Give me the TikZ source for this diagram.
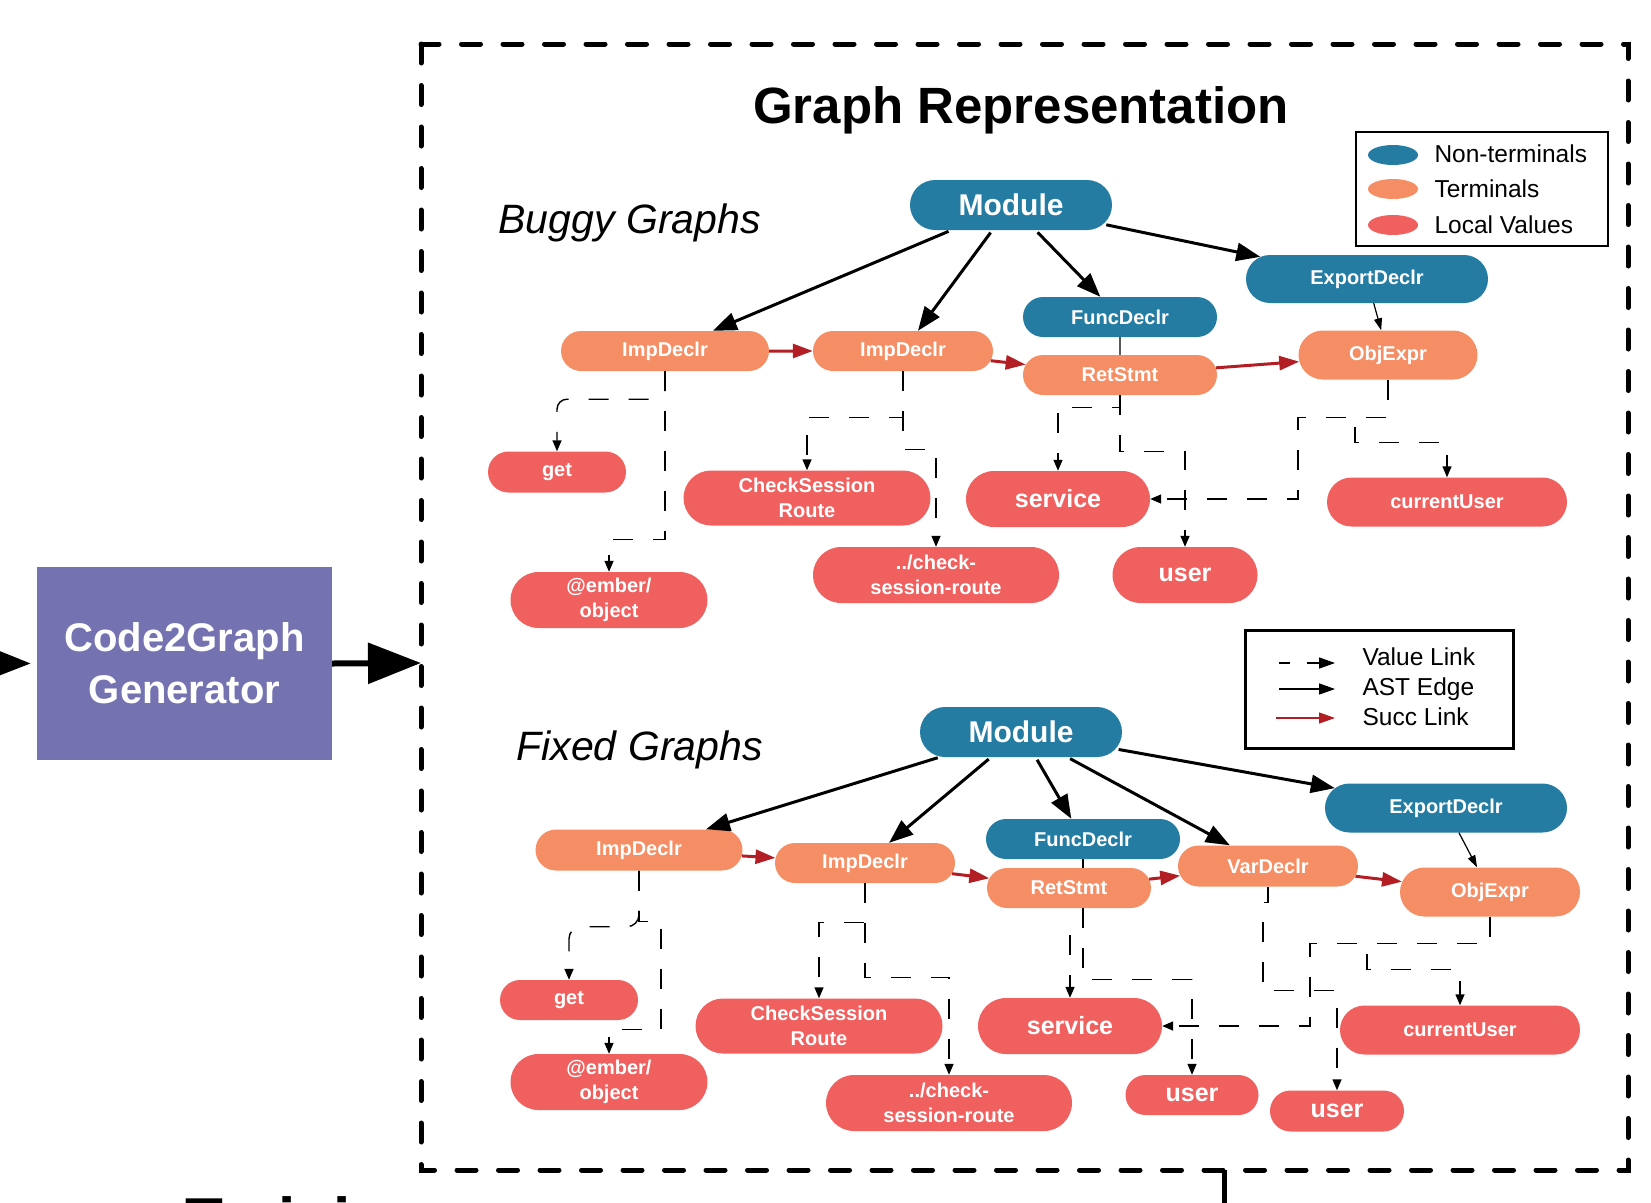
\documentclass[tikz,border=0pt]{standalone}
\usepackage{fontspec}
\setmainfont{Liberation Sans}
\usetikzlibrary{arrows.meta,shapes.misc,shapes.geometric,calc}
\definecolor{ntblue}{RGB}{36,124,163}
\definecolor{termor}{RGB}{245,142,100}
\definecolor{locred}{RGB}{240,96,94}
\definecolor{genpurple}{RGB}{116,114,176}
\definecolor{succred}{RGB}{178,30,35}
\begin{document}
\begin{tikzpicture}[x=1pt,y=-1pt,
  pill/.style={rounded rectangle, inner sep=0pt, text=white, align=center,
    font=\bfseries\fontsize{20}{25}\selectfont},
  nt/.style={pill, fill=ntblue},
  term/.style={pill, fill=termor},
  loc/.style={pill, fill=locred},
  bigtxt/.style={font=\bfseries\fontsize{25}{30}\selectfont},
  modtxt/.style={font=\bfseries\fontsize{30}{36}\selectfont},
  sz/.style 2 args={minimum width=#1pt, minimum height=#2pt},
  ast/.style={line width=3pt, -{Triangle[length=24pt,width=18pt]}, shorten <=3pt},
  thinast/.style={line width=1.2pt, -{Triangle[length=12pt,width=8pt]}},
  succ/.style={draw=succred, line width=3pt, -{Triangle[length=20pt,width=14pt,fill=succred]}},
  vlink/.style={line width=1.4pt, dash pattern=on 20pt off 20pt, -{Triangle[length=11pt,width=9pt]}},
  bigarrow/.style={line width=6pt, -{Triangle[length=53pt,width=40pt]}},
  legtxt/.style={anchor=base west, font=\fontsize{24.5}{28}\selectfont},
  legell/.style={ellipse, inner sep=0pt, minimum width=50pt, minimum height=20pt},
]
\useasboundingbox (0,0) rectangle (1651,1202);

% outer dashed frame
\draw[line width=5pt, line cap=round, dash pattern=on 19pt off 22.5pt] (421,44) rectangle (1628,1170);
\draw[line width=5pt] (1224,1170) -- (1224,1215);

% cut text at the bottom
\node[anchor=base west, font=\bfseries\fontsize{62}{70}\selectfont] (cut) at (182,1241) {Training};

% generator
\node[fill=genpurple, minimum width=295pt, minimum height=193pt, inner sep=0pt,
  text=white, align=center, font=\bfseries\fontsize{40}{52}\selectfont] (c2g) at (184.5,663.5) {Code2Graph\\Generator};
\coordinate (lin) at (-40,663);
\coordinate (boxin) at (421,663);
\draw[bigarrow, shorten >=6pt] (lin) -- (c2g.west);
\draw[bigarrow] (c2g.east) -- (boxin);

% title
\node[anchor=base, font=\bfseries\fontsize{51}{60}\selectfont] (title) at (1021,123) {Graph Representation};
\node[anchor=base west, font=\itshape\fontsize{41}{48}\selectfont] (buggy) at (495,233) {Buggy Graphs};
\node[anchor=base west, font=\itshape\fontsize{41}{48}\selectfont] (fixed) at (513,760) {Fixed Graphs};

% legend 1
\node[draw, line width=1.5pt, minimum width=252pt, minimum height=114pt, inner sep=0pt] (leg1) at (1482,189) {};
\node[legell, fill=ntblue] (e1) at (1393,155) {};
\node[legell, fill=termor] (e2) at (1393,189) {};
\node[legell, fill=locred] (e3) at (1393,225) {};
\node[legtxt] (l1) at (1431,162) {Non-terminals};
\node[legtxt] (l2) at (1431,197) {Terminals};
\node[legtxt] (l3) at (1431,233) {Local Values};

% legend 2
\node[draw, line width=3pt, minimum width=268pt, minimum height=118pt, inner sep=0pt] (leg2) at (1379,689) {};
\node[legtxt] (t1) at (1359,665) {Value Link};
\node[legtxt] (t2) at (1359,695) {AST Edge};
\node[legtxt] (t3) at (1359,725) {Succ Link};
\coordinate (va) at (1279,663); \coordinate (vb) at (1335,663);
\coordinate (aa) at (1279,689); \coordinate (ab) at (1335,689);
\coordinate (sa) at (1276,718); \coordinate (sb) at (1335,718);
\draw[line width=1.6pt, dash pattern=on 11pt off 17pt on 80pt, -{Triangle[length=16pt,width=11pt]}] (va) -- (vb);
\draw[line width=1.6pt, -{Triangle[length=16pt,width=11pt]}] (aa) -- (ab);
\draw[line width=1.4pt, succred, -{Triangle[length=16pt,width=11pt]}] (sa) -- (sb);

% ---------------- buggy graph ----------------
\node[nt, modtxt, sz={202}{50}] (bmod) at (1011,205) {Module};
\node[nt, sz={242}{48}] (bexp) at (1367,279) {ExportDeclr};
\node[nt, sz={194}{40}] (bfunc) at (1120,317) {FuncDeclr};
\node[term, sz={208}{40}] (bimp1) at (665,351) {ImpDeclr};
\node[term, sz={180}{40}] (bimp2) at (903,351) {ImpDeclr};
\node[term, sz={194}{40}] (bret) at (1120,375) {RetStmt};
\node[term, sz={179}{49}] (bobj) at (1388,355) {ObjExpr};
\node[loc, sz={138}{41}] (bget) at (557,472) {get};
\node[loc, sz={247}{55}] (bcsr) at (807,498) {CheckSession\\Route};
\node[loc, sz={197}{56}] (bember) at (609,600) {@ember/\\object};
\node[loc, sz={246}{56}] (bpath) at (936,575) {../check-\\session-route};
\node[loc, bigtxt, sz={184}{56}] (bserv) at (1058,499) {service};
\node[loc, sz={240}{49}] (bcu) at (1447,502) {currentUser};
\node[loc, bigtxt, sz={145}{56}] (buser) at (1185,575) {user};

\draw[ast] (bmod) -- (bimp1);
\draw[ast] (bmod) -- (bimp2);
\draw[ast] (bmod) -- (bfunc);
\draw[ast] (bmod) -- (bexp);
\draw[thinast] (bexp) -- (bobj);
\draw[line width=1.2pt] (bfunc) -- (bret);
\draw[succ] (bimp1) -- (bimp2);
\draw[succ] (bimp2) -- (bret);
\draw[succ] (bret) -- (bobj);

\draw[vlink, rounded corners=10pt] (bimp1.south) -- ++(0,28) -| (bget.north);
\draw[vlink] (bimp1.south) -- ++(0,168) -| (bember.north);
\draw[vlink] (bimp2.south) -- ++(0,46) -| (bcsr.north);
\draw[vlink] (bimp2.south) -- ++(0,78) -| (bpath.north);
\draw[vlink] (bret.south) -- ++(0,12) -| (bserv.north);
\draw[vlink] (bret.south) -- ++(0,56) -| (buser.north);
\draw[vlink] (bobj.south) -- ++(0,38) -- ++(-90,0) |- (bserv.east);
\draw[vlink] (bobj.south) -- ++(0,38) -- ++(-33,0) -- ++(0,25) -| (bcu.north);

% ---------------- fixed graph ----------------
\node[nt, modtxt, sz={202}{50}] (fmod) at (1021,732) {Module};
\node[nt, sz={242}{49}] (fexp) at (1446,808) {ExportDeclr};
\node[nt, sz={194}{40}] (ffunc) at (1083,839) {FuncDeclr};
\node[term, sz={207}{41}] (fimp1) at (639,850) {ImpDeclr};
\node[term, sz={180}{40}] (fimp2) at (865,863) {ImpDeclr};
\node[term, sz={164}{40}] (fret) at (1069,888) {RetStmt};
\node[term, sz={180}{41}] (fvar) at (1268,866) {VarDeclr};
\node[term, sz={180}{49}] (fobj) at (1490,892) {ObjExpr};
\node[loc, sz={138}{40}] (fget) at (569,1000) {get};
\node[loc, sz={247}{55}] (fcsr) at (819,1026) {CheckSession\\Route};
\node[loc, sz={197}{56}] (fember) at (609,1082) {@ember/\\object};
\node[loc, sz={246}{56}] (fpath) at (949,1103) {../check-\\session-route};
\node[loc, bigtxt, sz={184}{56}] (fserv) at (1070,1026) {service};
\node[loc, sz={240}{49}] (fcu) at (1460,1030) {currentUser};
\node[loc, bigtxt, sz={133}{40}] (fuser1) at (1192,1095) {user};
\node[loc, bigtxt, sz={134}{41}] (fuser2) at (1337,1111) {user};

\draw[ast] (fmod) -- (fimp1);
\draw[ast] (fmod) -- (fimp2);
\draw[ast] (fmod) -- (ffunc);
\draw[ast] (fmod) -- (fvar);
\draw[ast] (fmod) -- (fexp);
\draw[thinast] (fexp) -- (fobj);
\draw[line width=1.2pt] (ffunc.south) -- (ffunc.south |- fret.north);
\draw[succ] (fimp1) -- (fimp2);
\draw[succ] (fimp2) -- (fret);
\draw[succ] (fret) -- (fvar);
\draw[succ] (fvar) -- (fobj);

\draw[vlink, rounded corners=12pt] (fimp1.south) -- ++(0,56) -| (fget.north);
\draw[vlink] (fimp1.south) -- ++(0,51) -- ++(22,0) -- ++(0,108) -| (fember.north);
\draw[vlink] (fimp2.south) -- ++(0,39) -| (fcsr.north);
\draw[vlink] (fimp2.south) -- ++(0,94) -| (fpath.north);
\draw[vlink] (ffunc.south |- fret.south) -- ++(0,24) -| (fserv.north);
\draw[vlink] (ffunc.south |- fret.south) -- ++(0,71) -| (fuser1.north);
\draw[vlink] (fvar.south) -- ++(0,16) -- ++(-5,0) -- ++(0,88) -| (fuser2.north);
\draw[vlink] (fobj.south) -- ++(0,27) -- ++(-180,0) |- (fserv.east);
\draw[vlink] (fobj.south) -- ++(0,27) -- ++(-123,0) -- ++(0,26) -| (fcu.north);
\end{tikzpicture}
\end{document}
